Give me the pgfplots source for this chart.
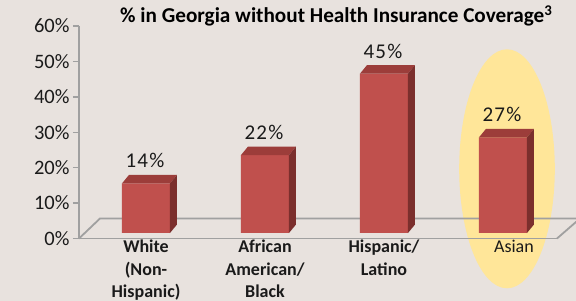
\documentclass[border=0pt]{standalone}
\usepackage{fontspec}
\setmainfont{Carlito}
\usepackage{pgfplots}
\usepackage{pgfplotstable}
\pgfplotsset{compat=1.18}

\definecolor{bg}{HTML}{E8E2DE}
\definecolor{barfront}{HTML}{C0504D}
\definecolor{bartop}{HTML}{9C3D3A}
\definecolor{barside}{HTML}{7B2F2D}
\definecolor{hl}{HTML}{FFE699}
\definecolor{axgray}{HTML}{A0A0A0}
\definecolor{txt}{HTML}{1A1A1A}

\pgfplotstableread{
x val
0 14
1 22
2 45
3 27
}\datatable

% top and side faces of a 3D bar, drawn at the data point
\pgfdeclareplotmark{cubefaces}{%
  \pgfmathsetmacro\hh{\barval*3.5417}%
  \pgfmathsetmacro\lo{5.5-\hh}%
  \pgfmathsetmacro\loback{14-\hh}%
  \pgfsetfillcolor{bartop}%
  \pgfpathmoveto{\pgfpoint{-24bp}{5.5bp}}%
  \pgfpathlineto{\pgfpoint{24bp}{5.5bp}}%
  \pgfpathlineto{\pgfpoint{31bp}{14bp}}%
  \pgfpathlineto{\pgfpoint{-17bp}{14bp}}%
  \pgfpathclose
  \pgfusepath{fill}%
  \pgfsetfillcolor{barside}%
  \pgfpathmoveto{\pgfpoint{24bp}{5.5bp}}%
  \pgfpathlineto{\pgfpoint{31bp}{14bp}}%
  \pgfpathlineto{\pgfpoint{31bp}{\loback bp}}%
  \pgfpathlineto{\pgfpoint{24bp}{\lo bp}}%
  \pgfpathclose
  \pgfusepath{fill}%
}

\begin{document}
\begin{tikzpicture}
\useasboundingbox (0,0) rectangle (576bp,301bp);
\fill[bg] (0,0) rectangle (576bp,301bp);
% highlight behind the Asian bar
\fill[hl] (507bp,132.2bp) ellipse [x radius=47.8bp, y radius=119.5bp];
% title
\node[anchor=base west, inner sep=0pt, text=black,
      font=\fontsize{21.2bp}{25bp}\selectfont\bfseries]
  at (120bp,278.3bp) {\% in Georgia without Health Insurance Coverage\textsuperscript{3}};

\begin{axis}[
  at={(79bp,62.5bp)}, anchor=south west,
  scale only axis, width=478bp, height=212.5bp,
  xmin=-0.563, xmax=3.454, ymin=0, ymax=60,
  clip=false,
  axis x line*=bottom, axis y line*=left,
  axis line style={draw=axgray, line width=1.8bp, -},
  /pgf/number format/assume math mode=true,
  ytick={0,10,...,60},
  yticklabel={\pgfmathprintnumber{\tick}\%},
  yticklabel style={font=\fontsize{20.5bp}{24bp}\selectfont, text=txt},
  tick align=outside, major tick length=6bp,
  ytick style={draw=axgray, line width=1.5bp},
  xtick={0,1,2,3},
  xtick style={draw=none},
  xticklabels={{White\\(Non-\\Hispanic)},{African\\American/\\Black},{Hispanic/\\Latino},{\mdseries\hspace*{22bp}Asian}},
  xticklabel style={align=center, text=txt, inner sep=0pt,
    font=\fontsize{18bp}{22.5bp}\selectfont\bfseries,
    anchor=north, yshift=4.5bp},
]
% floor of the 3D plot
\draw[axgray, line width=1.8bp] (rel axis cs:0,0) -- ++(21bp,20bp) -- ++(480bp,0bp) -- (rel axis cs:1,0);
% front faces
\addplot[ybar, bar width=48bp, fill=barfront, draw=none, yshift=5.5bp]
  table[x=x, y=val] {\datatable};
% top and side faces, value labels
\addplot[only marks, mark=cubefaces,
  visualization depends on={\thisrow{val} \as \barval},
  nodes near coords={\pgfmathprintnumber{\pgfplotspointmeta}\%},
  every node near coord/.append style={anchor=base, yshift=21bp, xshift=-1bp,
     text=txt, font=\fontsize{21bp}{24bp}\selectfont\addfontfeature{LetterSpace=6}},
] table[x=x, y=val] {\datatable};
\end{axis}
\end{tikzpicture}
\end{document}
